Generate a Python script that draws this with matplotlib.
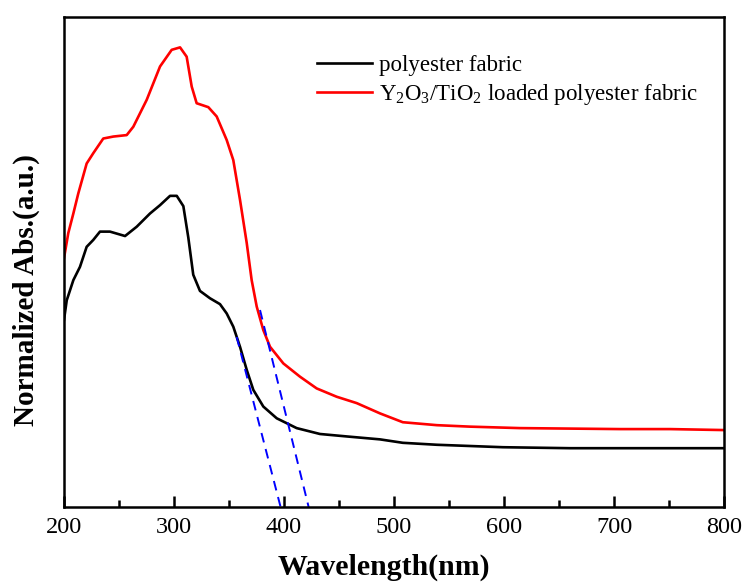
import matplotlib
matplotlib.use("Agg")
import matplotlib.pyplot as plt
from matplotlib.ticker import MultipleLocator

plt.rcParams['font.family'] = ['Liberation Serif', 'DejaVu Serif']
plt.rcParams['mathtext.fontset'] = 'custom'
plt.rcParams['mathtext.rm'] = 'Liberation Serif'

# Data (wavelength in nm, normalized absorbance)
wl_red = [200, 203.9, 208.5, 213.0, 220.6, 226.6, 235.7, 244.8, 257.0, 263.0, 275.2, 287.3,
          297.9, 305.5, 311.5, 316.1, 320.6, 331.2, 338.8, 347.9, 353.9, 360.0, 366.1, 370.6,
          375.2, 381.2, 387.3, 399.4, 414.5, 429.7, 447.9, 466.1, 487.3, 508, 539, 569,
          614.5, 660, 705.5, 751, 800]
abs_red = [0.508, 0.559, 0.599, 0.640, 0.701, 0.722, 0.752, 0.756, 0.759, 0.776, 0.831, 0.899,
           0.933, 0.938, 0.919, 0.858, 0.824, 0.816, 0.797, 0.749, 0.708, 0.627, 0.539, 0.463,
           0.409, 0.361, 0.327, 0.293, 0.266, 0.242, 0.225, 0.212, 0.191, 0.173, 0.167, 0.164,
           0.161, 0.160, 0.159, 0.159, 0.157]

wl_black = [200, 202.5, 208.5, 214.5, 220.6, 226.6, 232.7, 241.8, 255.5, 266.1, 278.2, 287.3,
            296.4, 302.5, 308.5, 313.0, 317.5, 323.6, 332.7, 341.8, 347.9, 353.9, 360.0, 366.1,
            372.1, 381.2, 393.4, 411.5, 432.7, 457.0, 487.3, 508, 539, 599, 660, 705.5, 751, 800]
abs_black = [0.382, 0.422, 0.463, 0.490, 0.531, 0.545, 0.562, 0.562, 0.553, 0.572, 0.599, 0.616,
             0.635, 0.635, 0.614, 0.550, 0.474, 0.441, 0.426, 0.414, 0.395, 0.368, 0.327, 0.280,
             0.239, 0.205, 0.181, 0.161, 0.149, 0.144, 0.138, 0.131, 0.127, 0.122, 0.120, 0.120,
             0.120, 0.120]

# Tangent (band-edge) lines
tan1_x = [357, 396.9]
tan1_y = [0.347, 0.0]
tan2_x = [378.2, 422.4]
tan2_y = [0.402, 0.0]

labels = ['polyester fabric', r'Y$\mathregular{_2}$O$\mathregular{_3}$/TiO$\mathregular{_2}$ loaded polyester fabric']

fig = plt.figure(figsize=(7.45, 5.83), dpi=100)
ax = fig.add_axes([64/745, 76/583, 660/745, 490/583])

ax.plot(wl_black, abs_black, color='black', lw=1.9, label=labels[0])
ax.plot(wl_red, abs_red, color='#ff0000', lw=1.9, label=labels[1])
ax.plot(tan1_x, tan1_y, color='#0000ff', lw=1.4, ls=(0, (5, 3.5)))
ax.plot(tan2_x, tan2_y, color='#0000ff', lw=1.4, ls=(0, (5, 3.5)))

ax.set_xlim(200, 800)
ax.set_ylim(0, 1.0)
ax.xaxis.set_major_locator(MultipleLocator(100))
ax.xaxis.set_minor_locator(MultipleLocator(50))
ax.tick_params(axis='x', which='major', direction='in', length=8, width=1.8, labelsize=17.5, pad=7)
ax.tick_params(axis='x', which='minor', direction='in', length=5, width=1.8)
ax.set_yticks([])
for s in ax.spines.values():
    s.set_linewidth(1.8)

ax.set_xlabel('Wavelength(nm)', fontsize=21.5, fontweight='bold')
ax.xaxis.set_label_coords(0.485, -0.095)
ax.set_ylabel('Normalized Abs.(a.u.)', fontsize=21, fontweight='bold')
ax.yaxis.set_label_coords(-0.036, 0.443)

ax.legend(loc='upper left', bbox_to_anchor=(0.383, 0.923), frameon=False, fontsize=16.5,
          handlelength=2.4, handletextpad=0.3, labelspacing=0.29, borderpad=0, borderaxespad=0)

fig.savefig('out.png', dpi=100)
